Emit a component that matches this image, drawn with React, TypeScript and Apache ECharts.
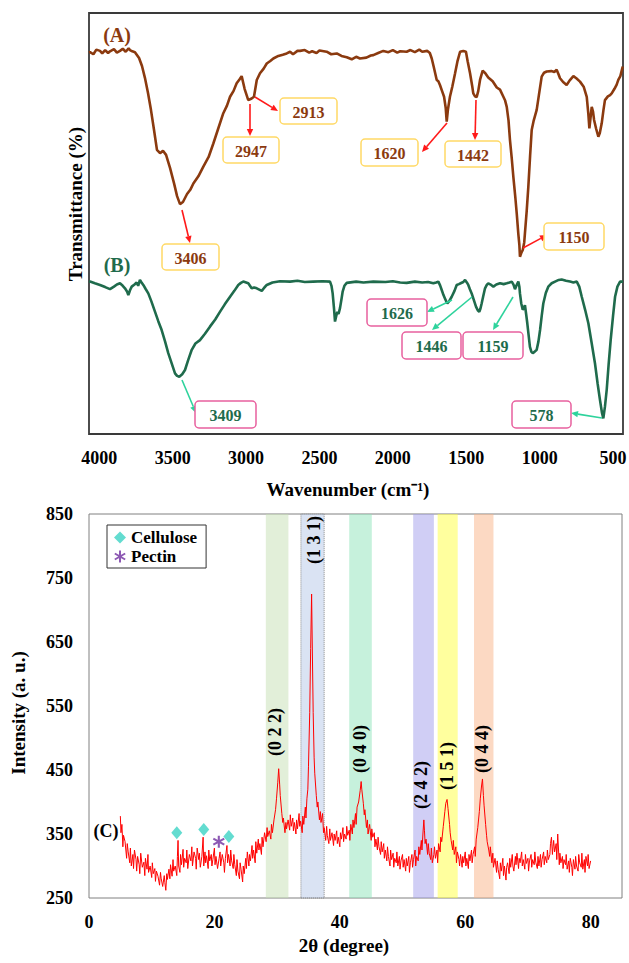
import React, { useEffect, useRef } from 'react';
import * as echarts from 'echarts';

const FONT = "'Liberation Serif', 'Times New Roman', serif";

// ---------- FTIR (wavenumber cm-1, transmittance a.u.) ----------
const ftirTicks = [4000, 3500, 3000, 2500, 2000, 1500, 1000, 500];

const ftirA: [number, number][] = [
  [4070, 90.6], [4063, 90.7], [4040, 90.2], [4020, 91.3], [3995, 91.0], [3980, 90.4], [3960, 91.2], [3940, 90.5],
  [3927, 90.9], [3900, 91.4], [3880, 90.6], [3859, 91.0], [3840, 91.5], [3820, 90.8], [3800, 91.6], [3791, 91.2],
  [3775, 90.9], [3757, 90.7], [3729, 89.3], [3709, 87.4], [3689, 84.6], [3668, 81.0], [3648, 77.0], [3627, 72.2],
  [3607, 67.5], [3586, 66.7], [3566, 67.3], [3545, 66.3], [3518, 63.2], [3491, 59.6], [3470, 56.5], [3450, 54.6],
  [3430, 55.1], [3402, 57.0], [3380, 58.0], [3359, 59.5], [3325, 61.2], [3291, 63.5], [3255, 65.8], [3223, 69.0],
  [3190, 72.5], [3155, 76.2], [3130, 78.0], [3109, 80.1], [3085, 81.5], [3064, 83.3], [3045, 84.2], [3030, 85.0],
  [3010, 82.0], [2985, 79.3], [2962, 79.7], [2946, 80.1], [2927, 84.1], [2905, 85.7], [2880, 86.8], [2859, 88.0],
  [2835, 88.6], [2814, 89.2], [2780, 89.8], [2750, 90.1], [2723, 90.4], [2700, 90.8], [2680, 90.2], [2650, 91.0],
  [2632, 91.0], [2600, 91.2], [2570, 90.6], [2550, 90.9], [2520, 90.5], [2500, 91.1], [2451, 90.8], [2420, 90.2],
  [2382, 90.4], [2350, 89.8], [2314, 89.5], [2280, 89.0], [2250, 89.6], [2224, 89.2], [2180, 89.4], [2150, 89.9],
  [2133, 90.0], [2100, 90.5], [2065, 91.0], [2030, 90.7], [2000, 91.2], [1970, 90.6], [1950, 90.9], [1906, 90.8],
  [1880, 91.2], [1850, 90.7], [1820, 91.3], [1800, 90.8], [1765, 91.0], [1748, 90.5], [1735, 89.2], [1720, 87.0],
  [1701, 84.1], [1690, 83.8], [1679, 82.9], [1665, 81.5], [1651, 80.1], [1640, 77.5], [1633, 74.2], [1625, 77.0],
  [1611, 80.1], [1595, 82.5], [1576, 85.7], [1560, 88.5], [1542, 90.8], [1520, 91.0], [1502, 90.8], [1490, 88.5],
  [1474, 85.7], [1460, 82.8], [1452, 80.9], [1440, 80.2], [1429, 80.0], [1418, 81.5], [1406, 84.1], [1395, 85.5],
  [1388, 86.3], [1370, 85.7], [1350, 84.7], [1320, 83.8], [1292, 82.3], [1270, 81.8], [1247, 80.1], [1235, 79.2],
  [1224, 77.7], [1212, 74.5], [1202, 69.8], [1190, 65.5], [1179, 61.1], [1165, 56.0], [1156, 52.4], [1145, 47.5],
  [1138, 44.9], [1134, 42.1], [1125, 43.0], [1115, 43.7], [1105, 45.5], [1100, 47.7], [1088, 53.0], [1077, 58.7],
  [1065, 66.0], [1054, 72.2], [1040, 74.5], [1020, 77.0], [1005, 80.5], [986, 84.9], [970, 85.8], [952, 86.1],
  [920, 86.2], [900, 86.0], [884, 86.5], [872, 85.5], [861, 84.5], [840, 83.6], [816, 82.9], [795, 84.0],
  [770, 85.0], [750, 84.5], [725, 83.7], [700, 82.5], [679, 80.1], [668, 76.0], [661, 72.6], [652, 75.5],
  [645, 77.7], [636, 76.5], [629, 74.6], [615, 72.5], [600, 70.6], [590, 71.5], [577, 73.8], [565, 77.0],
  [555, 79.3], [535, 80.2], [520, 80.5], [509, 80.9], [490, 82.0], [475, 83.0], [464, 84.1], [450, 85.0], [434, 87.3],
];

const ftirB: [number, number][] = [
  [4070, 36.3], [4063, 36.2], [4030, 35.8], [3995, 35.4], [3960, 34.9], [3927, 34.4], [3900, 35.0], [3880, 35.5],
  [3859, 35.8], [3840, 35.2], [3825, 34.6], [3810, 33.8], [3802, 33.0], [3790, 34.2], [3779, 35.0], [3760, 35.5],
  [3745, 36.0], [3735, 35.2], [3723, 36.6], [3712, 36.0], [3700, 35.4], [3685, 34.5], [3666, 33.4], [3645, 31.5],
  [3620, 29.0], [3598, 26.8], [3575, 24.7], [3552, 22.0], [3530, 19.2], [3505, 16.6], [3484, 14.4], [3470, 13.8],
  [3455, 13.6], [3435, 14.2], [3416, 15.2], [3395, 17.5], [3370, 20.0], [3345, 21.5], [3314, 22.3], [3280, 23.8],
  [3246, 25.5], [3210, 27.2], [3178, 29.0], [3145, 30.8], [3109, 32.6], [3080, 34.0], [3053, 35.4], [3035, 35.9],
  [3019, 36.2], [2985, 35.8], [2962, 34.6], [2945, 34.8], [2927, 34.6], [2910, 34.3], [2893, 34.0], [2875, 34.8],
  [2859, 35.4], [2820, 36.0], [2769, 36.3], [2700, 36.2], [2650, 36.4], [2600, 36.1], [2542, 36.2], [2480, 36.3],
  [2428, 36.2], [2418, 35.2], [2410, 33.4], [2400, 29.5], [2394, 26.7], [2386, 28.0], [2378, 29.0], [2370, 28.5],
  [2360, 29.9], [2350, 32.0], [2342, 33.8], [2330, 35.2], [2314, 35.9], [2250, 36.2], [2200, 36.0], [2133, 36.2],
  [2050, 36.1], [2000, 36.3], [1950, 36.0], [1906, 35.9], [1850, 36.2], [1800, 36.0], [1760, 36.1], [1724, 35.8],
  [1705, 36.0], [1690, 36.2], [1678, 35.3], [1667, 34.2], [1655, 33.0], [1645, 32.2], [1635, 31.4], [1629, 31.0],
  [1615, 31.6], [1599, 32.6], [1580, 34.0], [1565, 35.4], [1550, 35.6], [1538, 35.8], [1520, 36.1], [1508, 36.6],
  [1496, 36.0], [1486, 35.4], [1475, 34.4], [1463, 33.4], [1448, 31.8], [1433, 30.2], [1420, 29.3], [1411, 29.0],
  [1403, 29.8], [1395, 31.0], [1385, 32.6], [1372, 34.6], [1360, 35.4], [1350, 35.8], [1330, 35.4], [1315, 35.0],
  [1295, 35.5], [1270, 35.8], [1245, 35.6], [1224, 35.8], [1205, 36.0], [1190, 36.2], [1178, 35.5], [1168, 34.4],
  [1155, 35.5], [1145, 36.2], [1138, 35.0], [1134, 33.4], [1125, 31.0], [1115, 29.5], [1108, 30.0], [1100, 30.6],
  [1092, 28.5], [1084, 26.3], [1075, 23.5], [1066, 20.7], [1056, 19.5], [1047, 19.2], [1035, 19.5], [1020, 20.0],
  [1008, 22.0], [997, 24.7], [986, 28.0], [975, 31.0], [958, 33.5], [941, 35.0], [918, 35.8], [895, 36.2],
  [870, 36.6], [850, 36.7], [820, 36.4], [793, 36.2], [770, 36.0], [747, 36.2], [730, 35.0], [713, 32.6],
  [690, 29.5], [668, 26.3], [645, 21.5], [623, 16.8], [605, 12.0], [589, 8.1], [575, 5.0], [566, 3.7],
  [555, 6.5], [543, 10.5], [530, 16.5], [516, 22.3], [500, 28.0], [486, 32.6], [470, 35.0], [452, 36.2], [432, 36.2],
];

const labelsA = ['2913', '2947', '3406', '1620', '1442', '1150'];
const labelsB = ['3409', '1626', '1446', '1159', '578'];

// ---------- XRD (2theta degree, intensity a.u.) ----------
const xrdData: [number, number][] = [
  [5.0, 378], [5.1, 352], [5.25, 365], [5.4, 330], [5.5, 348], [5.75, 338], [6.0, 312], [6.1, 335],
  [6.25, 322], [6.5, 305], [6.6, 328], [6.75, 300], [7.0, 318], [7.1, 296], [7.25, 325], [7.5, 310],
  [7.6, 292], [7.75, 315], [8.0, 302], [8.1, 288], [8.25, 320], [8.5, 298], [8.75, 306], [8.9, 285],
  [9.0, 312], [9.25, 295], [9.4, 318], [9.5, 290], [9.75, 300], [10.0, 282], [10.1, 305], [10.25, 288],
  [10.5, 296], [10.6, 276], [10.75, 292], [11.0, 284], [11.25, 270], [11.4, 290], [11.5, 281], [11.75, 268],
  [12.0, 285], [12.1, 274], [12.25, 262], [12.4, 288], [12.5, 279], [12.75, 295], [12.9, 280], [13.0, 302],
  [13.25, 284], [13.4, 310], [13.5, 292], [13.75, 300], [14.0, 285], [14.1, 315], [14.2, 340], [14.3, 300],
  [14.5, 290], [14.6, 318], [14.75, 302], [15.0, 326], [15.1, 298], [15.25, 312], [15.5, 305], [15.6, 325],
  [15.75, 296], [16.0, 318], [16.25, 308], [16.4, 330], [16.5, 300], [16.75, 322], [17.0, 312], [17.1, 295],
  [17.25, 328], [17.5, 310], [17.6, 320], [17.75, 298], [18.0, 315], [18.2, 345], [18.3, 300], [18.5, 322],
  [18.6, 305], [18.75, 316], [19.0, 296], [19.1, 325], [19.25, 308], [19.5, 318], [19.6, 300], [19.75, 310],
  [20.0, 328], [20.1, 302], [20.25, 315], [20.5, 296], [20.75, 312], [20.9, 322], [21.0, 300], [21.25, 318],
  [21.5, 305], [21.6, 290], [21.75, 312], [22.0, 332], [22.1, 305], [22.25, 318], [22.5, 300], [22.6, 325],
  [22.75, 308], [23.0, 296], [23.1, 318], [23.25, 302], [23.5, 285], [23.6, 310], [23.75, 292], [24.0, 280],
  [24.1, 305], [24.25, 295], [24.5, 275], [24.6, 300], [24.75, 288], [25.0, 312], [25.1, 296], [25.25, 322],
  [25.5, 300], [25.6, 318], [25.75, 308], [26.0, 332], [26.1, 312], [26.25, 325], [26.5, 305], [26.6, 338],
  [26.75, 320], [27.0, 342], [27.1, 325], [27.25, 335], [27.5, 318], [27.6, 345], [27.75, 330], [28.0, 352],
  [28.25, 338], [28.4, 360], [28.5, 346], [28.75, 355], [29.0, 342], [29.1, 365], [29.25, 352], [29.5, 372],
  [29.75, 388], [29.9, 405], [30.1, 430], [30.25, 452], [30.4, 428], [30.5, 410], [30.75, 382], [30.9, 368],
  [31.0, 375], [31.25, 352], [31.4, 368], [31.5, 358], [31.75, 372], [32.0, 356], [32.1, 380], [32.25, 362],
  [32.5, 375], [32.6, 355], [32.75, 368], [33.0, 350], [33.1, 372], [33.25, 358], [33.5, 382], [33.6, 362],
  [33.75, 370], [34.0, 352], [34.1, 378], [34.25, 365], [34.5, 392], [34.6, 375], [34.75, 405], [34.9, 420],
  [35.0, 455], [35.2, 540], [35.35, 640], [35.5, 725], [35.6, 650], [35.75, 540], [35.9, 470], [36.0, 445],
  [36.25, 410], [36.4, 392], [36.5, 400], [36.75, 372], [36.9, 385], [37.0, 368], [37.25, 382], [37.4, 352],
  [37.5, 360], [37.75, 340], [37.9, 362], [38.0, 348], [38.25, 335], [38.4, 358], [38.5, 340], [38.75, 352],
  [39.0, 332], [39.1, 350], [39.25, 340], [39.5, 355], [39.6, 335], [39.75, 345], [40.0, 330], [40.1, 352],
  [40.25, 342], [40.5, 360], [40.6, 338], [40.75, 350], [41.0, 342], [41.1, 362], [41.25, 348], [41.5, 356],
  [41.6, 340], [41.75, 365], [42.0, 350], [42.1, 372], [42.25, 360], [42.5, 382], [42.6, 365], [42.75, 392],
  [43.0, 400], [43.25, 418], [43.4, 432], [43.5, 420], [43.75, 398], [43.9, 380], [44.0, 388], [44.25, 360],
  [44.4, 372], [44.5, 350], [44.75, 365], [45.0, 340], [45.1, 358], [45.25, 345], [45.5, 352], [45.6, 330],
  [45.75, 342], [46.0, 325], [46.1, 345], [46.25, 330], [46.5, 318], [46.6, 338], [46.75, 322], [47.0, 335],
  [47.1, 312], [47.25, 325], [47.5, 308], [47.6, 330], [47.75, 315], [48.0, 300], [48.1, 325], [48.25, 310],
  [48.5, 320], [48.6, 298], [48.75, 312], [49.0, 305], [49.1, 322], [49.25, 300], [49.5, 315], [49.6, 295],
  [49.75, 308], [50.0, 318], [50.1, 298], [50.25, 310], [50.5, 292], [50.6, 312], [50.75, 300], [51.0, 315],
  [51.1, 290], [51.25, 305], [51.5, 318], [51.6, 298], [51.75, 310], [52.0, 325], [52.1, 300], [52.25, 315],
  [52.5, 308], [52.6, 330], [52.75, 318], [53.0, 340], [53.1, 325], [53.25, 350], [53.4, 372], [53.5, 355],
  [53.6, 335], [53.75, 342], [54.0, 318], [54.1, 335], [54.25, 320], [54.5, 310], [54.6, 328], [54.75, 305],
  [55.0, 318], [55.1, 330], [55.25, 312], [55.5, 325], [55.6, 305], [55.75, 335], [56.0, 322], [56.1, 345],
  [56.25, 338], [56.5, 362], [56.75, 385], [56.9, 398], [57.1, 404], [57.25, 390], [57.5, 365], [57.6, 352],
  [57.75, 340], [58.0, 325], [58.1, 340], [58.25, 318], [58.5, 330], [58.6, 305], [58.75, 322], [59.0, 310],
  [59.1, 300], [59.25, 318], [59.5, 298], [59.6, 315], [59.75, 305], [60.0, 322], [60.1, 300], [60.25, 312],
  [60.5, 296], [60.6, 318], [60.75, 308], [61.0, 325], [61.1, 305], [61.25, 318], [61.5, 330], [61.6, 315],
  [61.75, 342], [62.0, 360], [62.25, 385], [62.4, 405], [62.6, 425], [62.75, 436], [62.9, 410], [63.0, 395],
  [63.25, 365], [63.4, 348], [63.5, 338], [63.75, 325], [63.9, 315], [64.0, 330], [64.25, 305], [64.4, 320],
  [64.5, 298], [64.75, 312], [65.0, 290], [65.1, 308], [65.25, 295], [65.5, 280], [65.6, 305], [65.75, 292],
  [66.0, 312], [66.1, 285], [66.25, 300], [66.5, 278], [66.6, 298], [66.75, 305], [67.0, 288], [67.1, 312],
  [67.25, 298], [67.5, 318], [67.6, 300], [67.75, 292], [68.0, 315], [68.1, 302], [68.25, 320], [68.5, 296],
  [68.6, 312], [68.75, 305], [69.0, 322], [69.1, 300], [69.25, 310], [69.5, 295], [69.6, 318], [69.75, 304],
  [70.0, 312], [70.1, 292], [70.25, 308], [70.5, 318], [70.6, 298], [70.75, 310], [71.0, 302], [71.1, 322],
  [71.25, 306], [71.5, 296], [71.6, 315], [71.75, 300], [72.0, 318], [72.1, 298], [72.25, 310], [72.5, 322],
  [72.6, 302], [72.75, 315], [73.0, 305], [73.1, 325], [73.25, 310], [73.5, 318], [73.6, 335], [73.75, 345],
  [73.9, 318], [74.0, 330], [74.1, 340], [74.25, 322], [74.5, 335], [74.6, 310], [74.75, 350], [75.0, 302],
  [75.1, 320], [75.25, 305], [75.5, 315], [75.6, 296], [75.75, 310], [76.0, 302], [76.1, 318], [76.25, 295],
  [76.5, 308], [76.6, 290], [76.75, 312], [77.0, 298], [77.1, 285], [77.25, 310], [77.5, 295], [77.6, 315],
  [77.75, 300], [78.0, 292], [78.1, 318], [78.25, 305], [78.5, 298], [78.6, 320], [78.75, 295], [79.0, 310],
  [79.1, 290], [79.25, 315], [79.5, 300], [79.6, 318], [79.75, 296], [80.0, 308],
];

const cellulosePeaks: [number, number][] = [[14.0, 352], [18.3, 357], [22.3, 346]];
const pectinPeaks: [number, number][] = [[20.7, 338]];

const bandNames = ['(0 2 2)', '(1 3 1)', '(0 4 0)', '(2 4 2)', '(1 5 1)', '(0 4 4)'];
const bandRanges: [number, number][] = [[28.2, 31.8], [33.8, 37.5], [41.5, 45.1], [51.7, 55.0], [55.6, 58.8], [61.4, 64.5]];

// ---------- styles / layout ----------
const bandColors = [
  'rgba(197,223,179,0.5)', 'rgba(181,199,231,0.5)', 'rgba(141,227,185,0.5)',
  'rgba(161,157,235,0.5)', 'rgba(255,255,61,0.5)', 'rgba(249,179,135,0.5)',
];
const bandLabelPos: [number, number][] = [[275, 732], [314, 540], [360, 749], [421, 785], [447, 766], [482, 749]];

const boxesA: [number, number, number, number][] = [
  [280, 98, 57, 26], [223, 137, 56, 26], [162, 244, 57, 26], [361, 139, 57, 27], [445, 141, 56, 26], [544, 223, 60, 27],
];
const arrowsA: [number, number, number, number][] = [
  [255, 97, 278, 111], [250, 104, 250, 136], [182, 210, 190, 243], [447, 123, 422, 152], [476, 100, 475, 140], [523, 248, 547, 235],
];
const boxesB: [number, number, number, number][] = [
  [195, 401, 61, 27], [367, 299, 60, 27], [402, 332, 59, 27], [463, 332, 60, 27], [512, 401, 59, 27],
];
const arrowsB: [number, number, number, number][] = [
  [182, 380, 196, 413], [452, 300, 427, 312], [472, 297, 432, 330], [513, 297, 493, 330], [602, 418, 571, 413],
];

const BROWN = '#8b3a0f';
const GREEN = '#1f6b4c';

const STAR_PATH =
  'path://M-1,-6L1,-6L1,6L-1,6ZM4.696,3.866L-5.696,-2.134L-4.696,-3.866L5.696,2.134ZM-5.696,2.134L4.696,-3.866L5.696,-2.134L-4.696,3.866Z';

function arrowEls(x1: number, y1: number, x2: number, y2: number, color: string) {
  const a = Math.atan2(y2 - y1, x2 - x1);
  const L = 7, W = 3.2;
  const bx = x2 - L * Math.cos(a), by = y2 - L * Math.sin(a);
  const px = -Math.sin(a), py = Math.cos(a);
  return [
    { type: 'line', z: 50, shape: { x1, y1, x2: bx, y2: by }, style: { stroke: color, lineWidth: 1.6 } },
    {
      type: 'polygon', z: 50,
      shape: { points: [[x2, y2], [bx + W * px, by + W * py], [bx - W * px, by - W * py]] },
      style: { fill: color },
    },
  ];
}

function boxEls(b: [number, number, number, number], text: string, stroke: string, color: string) {
  const [x, y, w, h] = b;
  return [
    { type: 'rect', z: 50, shape: { x, y, width: w, height: h, r: 4 }, style: { fill: '#fff', stroke, lineWidth: 1.5 } },
    {
      type: 'text', z: 51, x: x + w / 2, y: y + h / 2 + 1,
      style: { text, font: `bold 16px ${FONT}`, fill: color, align: 'center', verticalAlign: 'middle' },
    },
  ];
}

function txt(x: number, y: number, text: string, size: number, color = '#000', rotation = 0) {
  return {
    type: 'text', z: 60, x, y, rotation,
    style: { text, font: `bold ${size}px ${FONT}`, fill: color, align: 'center', verticalAlign: 'middle' },
  };
}

export default function App() {
  const ref = useRef<HTMLDivElement>(null);
  useEffect(() => {
    if (!ref.current) return;
    const chart = echarts.init(ref.current, undefined, { renderer: 'svg' });

    const graphic: any[] = [];
    graphic.push(txt(75, 204, 'Transmittance (%)', 19, '#000', Math.PI / 2));
    graphic.push(txt(348, 489, 'Wavenumber (cm⁻¹)', 19));
    graphic.push(txt(18, 713, 'Intensity (a. u.)', 19, '#000', Math.PI / 2));
    graphic.push(txt(344, 945, '2θ (degree)', 19));
    graphic.push(txt(117, 35, '(A)', 20, BROWN));
    graphic.push(txt(117, 265, '(B)', 20, GREEN));
    graphic.push(txt(106, 831, '(C)', 18));
    bandNames.forEach((n, i) => graphic.push(txt(bandLabelPos[i][0], bandLabelPos[i][1], n, 18, '#000', Math.PI / 2)));
    labelsA.forEach((l, i) => {
      graphic.push(...arrowEls(arrowsA[i][0], arrowsA[i][1], arrowsA[i][2], arrowsA[i][3], '#ff1a1a'));
      graphic.push(...boxEls(boxesA[i], l, '#ffd966', BROWN));
    });
    labelsB.forEach((l, i) => {
      graphic.push(...arrowEls(arrowsB[i][0], arrowsB[i][1], arrowsB[i][2], arrowsB[i][3], '#2ed39c'));
      graphic.push(...boxEls(boxesB[i], l, '#e8609e', GREEN));
    });

    const tickFont = { fontFamily: FONT, fontWeight: 'bold' as const, fontSize: 18, color: '#000' };

    chart.setOption({
      animation: false,
      backgroundColor: '#fff',
      grid: [
        {
          left: 89, top: 13, width: 534, height: 421, show: true, borderColor: '#3a3a3a', borderWidth: 1.8,
          backgroundColor: 'transparent', containLabel: false, outerBoundsMode: 'none',
        },
        {
          left: 89, top: 514, width: 533, height: 384, show: true, borderColor: '#808080', borderWidth: 1,
          backgroundColor: 'transparent', containLabel: false, outerBoundsMode: 'none',
        },
      ],
      xAxis: [
        {
          gridIndex: 0, type: 'value', inverse: true, min: 432, max: 4070,
          axisLine: { show: false }, axisTick: { show: false }, splitLine: { show: false },
          axisLabel: { ...tickFont, margin: 15, customValues: ftirTicks, formatter: (v: number) => String(v) },
        },
        {
          gridIndex: 1, type: 'value', min: 0, max: 85, interval: 20,
          axisLine: { show: false }, axisTick: { show: false }, splitLine: { show: false },
          axisLabel: { ...tickFont, margin: 15, showMaxLabel: false, formatter: (v: number) => (v % 20 === 0 ? String(v) : '') },
        },
      ],
      yAxis: [
        {
          gridIndex: 0, type: 'value', min: 0, max: 100,
          axisLine: { show: false }, axisTick: { show: false }, splitLine: { show: false }, axisLabel: { show: false },
        },
        {
          gridIndex: 1, type: 'value', min: 250, max: 850, interval: 50,
          axisLine: { show: false }, axisTick: { show: false }, splitLine: { show: false },
          axisLabel: { ...tickFont, margin: 16, formatter: (v: number) => ((v - 250) % 100 === 0 ? String(v) : '') },
        },
      ],
      legend: {
        data: ['Cellulose', 'Pectin'],
        orient: 'vertical', left: 107, top: 525,
        itemGap: 2, itemWidth: 12, itemHeight: 12,
        padding: [4, 9, 3, 7],
        borderColor: '#333', borderWidth: 1, backgroundColor: '#fff',
        selectedMode: false,
        textStyle: { fontFamily: FONT, fontWeight: 'bold', fontSize: 17, lineHeight: 17, color: '#000' },
      },
      series: [
        {
          name: 'A', type: 'line', xAxisIndex: 0, yAxisIndex: 0, data: ftirA, showSymbol: false,
          lineStyle: { color: BROWN, width: 2.6 }, silent: true,
        },
        {
          name: 'B', type: 'line', xAxisIndex: 0, yAxisIndex: 0, data: ftirB, showSymbol: false,
          lineStyle: { color: GREEN, width: 2.6 }, silent: true,
        },
        {
          name: 'XRD', type: 'line', xAxisIndex: 1, yAxisIndex: 1, data: xrdData, showSymbol: false, z: 2,
          lineStyle: { color: '#ff0000', width: 1 }, silent: true,
        },
        {
          name: 'bands', type: 'line', xAxisIndex: 1, yAxisIndex: 1, data: xrdData, showSymbol: false, z: 3,
          lineStyle: { opacity: 0 }, silent: true,
          markArea: {
            silent: true,
            label: { show: false },
            data: bandRanges.map((r, i) => [
              {
                xAxis: r[0],
                itemStyle: i === 1
                  ? { color: bandColors[i], borderColor: '#8a8a8a', borderWidth: 1, borderType: 'dotted' }
                  : { color: bandColors[i] },
              },
              { xAxis: r[1] },
            ]),
          },
        },
        {
          name: 'Cellulose', type: 'scatter', xAxisIndex: 1, yAxisIndex: 1, data: cellulosePeaks, z: 5,
          symbol: 'diamond', symbolSize: [11, 13], itemStyle: { color: '#3cd3c4' },
        },
        {
          name: 'Pectin', type: 'scatter', xAxisIndex: 1, yAxisIndex: 1, data: pectinPeaks, z: 5,
          symbol: STAR_PATH, symbolSize: 12, itemStyle: { color: '#7030a0' },
        },
      ],
      graphic,
    });
    return () => chart.dispose();
  }, []);
  return <div ref={ref} style={{ position: 'fixed', left: 0, top: 0, width: 629, height: 963 }} />;
}
